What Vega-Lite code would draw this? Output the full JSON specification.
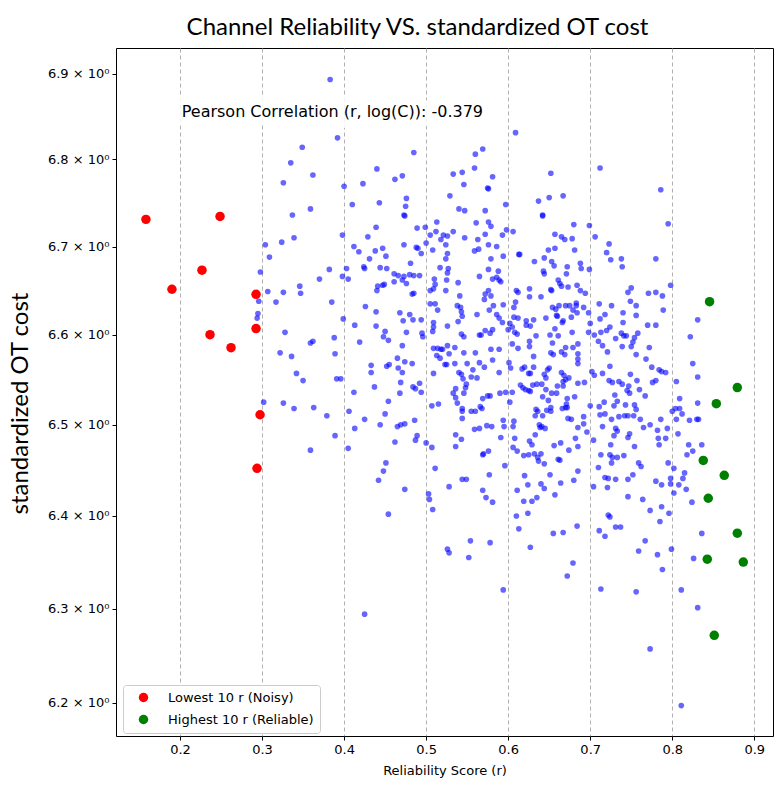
{
  "$schema": "https://vega.github.io/schema/vega-lite/v6.json",
  "width": 657,
  "height": 688,
  "autosize": "none",
  "padding": {"left": 116, "top": 48, "right": 11, "bottom": 54},
  "background": "white",
  "title": {"text": "Channel Reliability VS. standardized OT cost", "font": "Lato", "fontSize": 24, "fontWeight": "normal", "color": "black", "anchor": "middle", "dx": -27, "dy": 26, "offset": 15, "baseline": "alphabetic"},
  "datasets": {
    "points": [
{"r":0.383,"c":6.893},{"r":0.392,"c":6.825},{"r":0.349,"c":6.814},{"r":0.335,"c":6.796},{"r":0.362,"c":6.782},{"r":0.326,"c":6.773},{"r":0.400,"c":6.769},{"r":0.440,"c":6.789},{"r":0.423,"c":6.772},{"r":0.462,"c":6.777},{"r":0.471,"c":6.781},{"r":0.485,"c":6.808},{"r":0.410,"c":6.748},{"r":0.443,"c":6.750},{"r":0.476,"c":6.755},{"r":0.475,"c":6.746},{"r":0.473,"c":6.736},{"r":0.474,"c":6.735},{"r":0.337,"c":6.736},{"r":0.359,"c":6.743},{"r":0.339,"c":6.710},{"r":0.324,"c":6.705},{"r":0.304,"c":6.702},{"r":0.309,"c":6.688},{"r":0.298,"c":6.671},{"r":0.307,"c":6.649},{"r":0.326,"c":6.648},{"r":0.317,"c":6.637},{"r":0.296,"c":6.638},{"r":0.295,"c":6.624},{"r":0.294,"c":6.619},{"r":0.328,"c":6.603},{"r":0.346,"c":6.655},{"r":0.347,"c":6.647},{"r":0.370,"c":6.663},{"r":0.382,"c":6.674},{"r":0.385,"c":6.637},{"r":0.398,"c":6.713},{"r":0.403,"c":6.675},{"r":0.398,"c":6.666},{"r":0.405,"c":6.663},{"r":0.399,"c":6.618},{"r":0.413,"c":6.611},{"r":0.426,"c":6.632},{"r":0.439,"c":6.626},{"r":0.439,"c":6.610},{"r":0.450,"c":6.604},{"r":0.412,"c":6.700},{"r":0.418,"c":6.694},{"r":0.431,"c":6.686},{"r":0.424,"c":6.677},{"r":0.425,"c":6.675},{"r":0.429,"c":6.711},{"r":0.439,"c":6.722},{"r":0.438,"c":6.695},{"r":0.447,"c":6.698},{"r":0.451,"c":6.689},{"r":0.444,"c":6.676},{"r":0.452,"c":6.675},{"r":0.461,"c":6.669},{"r":0.466,"c":6.667},{"r":0.473,"c":6.666},{"r":0.480,"c":6.668},{"r":0.485,"c":6.667},{"r":0.492,"c":6.667},{"r":0.461,"c":6.660},{"r":0.471,"c":6.662},{"r":0.476,"c":6.658},{"r":0.441,"c":6.655},{"r":0.440,"c":6.650},{"r":0.447,"c":6.656},{"r":0.449,"c":6.657},{"r":0.485,"c":6.647},{"r":0.483,"c":6.646},{"r":0.473,"c":6.702},{"r":0.481,"c":6.681},{"r":0.488,"c":6.699},{"r":0.490,"c":6.698},{"r":0.494,"c":6.692},{"r":0.489,"c":6.721},{"r":0.499,"c":6.722},{"r":0.500,"c":6.704},{"r":0.494,"c":6.617},{"r":0.495,"c":6.602},{"r":0.468,"c":6.625},{"r":0.480,"c":6.623},{"r":0.484,"c":6.617},{"r":0.472,"c":6.616},{"r":0.476,"c":6.603},{"r":0.508,"c":6.696},{"r":0.505,"c":6.713},{"r":0.513,"c":6.728},{"r":0.512,"c":6.717},{"r":0.518,"c":6.708},{"r":0.521,"c":6.713},{"r":0.526,"c":6.712},{"r":0.533,"c":6.717},{"r":0.524,"c":6.702},{"r":0.526,"c":6.692},{"r":0.524,"c":6.686},{"r":0.517,"c":6.676},{"r":0.527,"c":6.675},{"r":0.526,"c":6.670},{"r":0.510,"c":6.663},{"r":0.511,"c":6.657},{"r":0.509,"c":6.652},{"r":0.505,"c":6.650},{"r":0.525,"c":6.662},{"r":0.524,"c":6.650},{"r":0.539,"c":6.659},{"r":0.541,"c":6.644},{"r":0.505,"c":6.635},{"r":0.511,"c":6.635},{"r":0.514,"c":6.628},{"r":0.509,"c":6.614},{"r":0.509,"c":6.609},{"r":0.526,"c":6.610},{"r":0.538,"c":6.633},{"r":0.542,"c":6.631},{"r":0.543,"c":6.626},{"r":0.544,"c":6.621},{"r":0.539,"c":6.615},{"r":0.562,"c":6.623},{"r":0.529,"c":6.758},{"r":0.540,"c":6.743},{"r":0.547,"c":6.741},{"r":0.546,"c":6.771},{"r":0.533,"c":6.783},{"r":0.544,"c":6.785},{"r":0.559,"c":6.790},{"r":0.560,"c":6.806},{"r":0.547,"c":6.710},{"r":0.561,"c":6.727},{"r":0.559,"c":6.695},{"r":0.564,"c":6.697},{"r":0.563,"c":6.708},{"r":0.565,"c":6.666},
{"r":0.569,"c":6.812},{"r":0.581,"c":6.780},{"r":0.575,"c":6.767},{"r":0.576,"c":6.766},{"r":0.597,"c":6.748},{"r":0.572,"c":6.741},{"r":0.576,"c":6.728},{"r":0.579,"c":6.723},{"r":0.572,"c":6.714},{"r":0.593,"c":6.713},{"r":0.598,"c":6.719},{"r":0.606,"c":6.717},{"r":0.576,"c":6.702},{"r":0.586,"c":6.700},{"r":0.594,"c":6.689},{"r":0.579,"c":6.686},{"r":0.576,"c":6.674},{"r":0.588,"c":6.672},{"r":0.581,"c":6.663},{"r":0.586,"c":6.665},{"r":0.589,"c":6.662},{"r":0.591,"c":6.660},{"r":0.576,"c":6.650},{"r":0.572,"c":6.646},{"r":0.579,"c":6.644},{"r":0.571,"c":6.640},{"r":0.582,"c":6.633},{"r":0.577,"c":6.628},{"r":0.594,"c":6.634},{"r":0.586,"c":6.623},{"r":0.589,"c":6.619},{"r":0.593,"c":6.614},{"r":0.572,"c":6.605},{"r":0.578,"c":6.602},{"r":0.581,"c":6.606},{"r":0.567,"c":6.600},{"r":0.609,"c":6.831},{"r":0.652,"c":6.784},{"r":0.712,"c":6.790},{"r":0.637,"c":6.752},{"r":0.650,"c":6.756},{"r":0.667,"c":6.758},{"r":0.642,"c":6.736},{"r":0.642,"c":6.735},{"r":0.680,"c":6.725},{"r":0.699,"c":6.724},{"r":0.657,"c":6.714},{"r":0.665,"c":6.711},{"r":0.669,"c":6.708},{"r":0.678,"c":6.709},{"r":0.613,"c":6.691},{"r":0.614,"c":6.691},{"r":0.649,"c":6.696},{"r":0.657,"c":6.698},{"r":0.681,"c":6.696},{"r":0.632,"c":6.683},{"r":0.644,"c":6.687},{"r":0.653,"c":6.683},{"r":0.656,"c":6.678},{"r":0.643,"c":6.672},{"r":0.644,"c":6.669},{"r":0.672,"c":6.677},{"r":0.671,"c":6.669},{"r":0.688,"c":6.681},{"r":0.689,"c":6.675},{"r":0.699,"c":6.674},{"r":0.706,"c":6.711},{"r":0.723,"c":6.703},{"r":0.720,"c":6.693},{"r":0.725,"c":6.685},{"r":0.738,"c":6.686},{"r":0.739,"c":6.677},{"r":0.780,"c":6.686},{"r":0.786,"c":6.765},{"r":0.795,"c":6.726},{"r":0.798,"c":6.656},{"r":0.661,"c":6.662},{"r":0.663,"c":6.658},{"r":0.665,"c":6.655},{"r":0.652,"c":6.651},{"r":0.653,"c":6.650},{"r":0.673,"c":6.654},{"r":0.684,"c":6.656},{"r":0.688,"c":6.650},{"r":0.694,"c":6.647},{"r":0.626,"c":6.652},{"r":0.626,"c":6.643},{"r":0.640,"c":6.643},{"r":0.610,"c":6.650},{"r":0.612,"c":6.648},{"r":0.607,"c":6.631},{"r":0.609,"c":6.637},{"r":0.607,"c":6.620},{"r":0.612,"c":6.619},{"r":0.602,"c":6.613},{"r":0.600,"c":6.606},{"r":0.605,"c":6.609},{"r":0.608,"c":6.603},{"r":0.611,"c":6.601},{"r":0.622,"c":6.616},{"r":0.627,"c":6.610},{"r":0.631,"c":6.617},{"r":0.622,"c":6.611},{"r":0.646,"c":6.619},{"r":0.654,"c":6.631},{"r":0.658,"c":6.629},{"r":0.662,"c":6.633},{"r":0.659,"c":6.622},{"r":0.660,"c":6.621},{"r":0.667,"c":6.616},{"r":0.666,"c":6.614},{"r":0.657,"c":6.607},{"r":0.670,"c":6.633},{"r":0.675,"c":6.633},{"r":0.683,"c":6.636},{"r":0.683,"c":6.633},{"r":0.679,"c":6.628},{"r":0.677,"c":6.620},{"r":0.684,"c":6.625},{"r":0.692,"c":6.631},{"r":0.698,"c":6.625},{"r":0.700,"c":6.613},{"r":0.698,"c":6.603},{"r":0.678,"c":6.603},{"r":0.651,"c":6.600},{"r":0.711,"c":6.635},{"r":0.726,"c":6.633},{"r":0.718,"c":6.623},{"r":0.712,"c":6.618},{"r":0.724,"c":6.609},{"r":0.720,"c":6.605},{"r":0.713,"c":6.603},{"r":0.705,"c":6.600},{"r":0.740,"c":6.625},{"r":0.740,"c":6.614},{"r":0.738,"c":6.602},{"r":0.746,"c":6.648},{"r":0.750,"c":6.653},{"r":0.749,"c":6.638},{"r":0.756,"c":6.633},{"r":0.756,"c":6.622},{"r":0.758,"c":6.602},{"r":0.771,"c":6.647},{"r":0.780,"c":6.648},{"r":0.788,"c":6.644},{"r":0.789,"c":6.628},{"r":0.770,"c":6.611},{"r":0.780,"c":6.611},{"r":0.831,"c":6.617},
{"r":0.388,"c":6.597},{"r":0.389,"c":6.579},{"r":0.359,"c":6.591},{"r":0.362,"c":6.593},{"r":0.322,"c":6.580},{"r":0.336,"c":6.576},{"r":0.342,"c":6.557},{"r":0.350,"c":6.549},{"r":0.391,"c":6.551},{"r":0.396,"c":6.551},{"r":0.419,"c":6.592},{"r":0.448,"c":6.598},{"r":0.454,"c":6.594},{"r":0.471,"c":6.588},{"r":0.496,"c":6.598},{"r":0.508,"c":6.604},{"r":0.465,"c":6.574},{"r":0.474,"c":6.570},{"r":0.483,"c":6.568},{"r":0.433,"c":6.566},{"r":0.433,"c":6.558},{"r":0.452,"c":6.565},{"r":0.455,"c":6.567},{"r":0.466,"c":6.563},{"r":0.471,"c":6.558},{"r":0.437,"c":6.542},{"r":0.412,"c":6.536},{"r":0.469,"c":6.547},{"r":0.468,"c":6.535},{"r":0.484,"c":6.542},{"r":0.487,"c":6.540},{"r":0.492,"c":6.546},{"r":0.494,"c":6.536},{"r":0.454,"c":6.526},{"r":0.450,"c":6.512},{"r":0.486,"c":6.505},{"r":0.465,"c":6.498},{"r":0.469,"c":6.500},{"r":0.474,"c":6.501},{"r":0.444,"c":6.500},{"r":0.425,"c":6.506},{"r":0.406,"c":6.515},{"r":0.413,"c":6.496},{"r":0.389,"c":6.488},{"r":0.379,"c":6.510},{"r":0.363,"c":6.519},{"r":0.339,"c":6.518},{"r":0.326,"c":6.524},{"r":0.302,"c":6.525},{"r":0.359,"c":6.472},{"r":0.405,"c":6.474},{"r":0.489,"c":6.488},{"r":0.487,"c":6.483},{"r":0.462,"c":6.481},{"r":0.500,"c":6.480},{"r":0.507,"c":6.475},{"r":0.451,"c":6.458},{"r":0.448,"c":6.449},{"r":0.442,"c":6.439},{"r":0.474,"c":6.429},{"r":0.503,"c":6.424},{"r":0.504,"c":6.418},{"r":0.508,"c":6.407},{"r":0.454,"c":6.402},{"r":0.511,"c":6.452},{"r":0.528,"c":6.432},{"r":0.544,"c":6.440},{"r":0.549,"c":6.440},{"r":0.526,"c":6.364},{"r":0.528,"c":6.360},{"r":0.554,"c":6.373},{"r":0.552,"c":6.355},{"r":0.509,"c":6.585},{"r":0.514,"c":6.585},{"r":0.518,"c":6.584},{"r":0.520,"c":6.584},{"r":0.513,"c":6.577},{"r":0.517,"c":6.574},{"r":0.526,"c":6.588},{"r":0.535,"c":6.586},{"r":0.528,"c":6.579},{"r":0.523,"c":6.567},{"r":0.525,"c":6.567},{"r":0.535,"c":6.568},{"r":0.546,"c":6.580},{"r":0.560,"c":6.580},{"r":0.543,"c":6.601},{"r":0.546,"c":6.598},{"r":0.550,"c":6.568},{"r":0.565,"c":6.600},{"r":0.565,"c":6.569},{"r":0.509,"c":6.557},{"r":0.540,"c":6.558},{"r":0.543,"c":6.556},{"r":0.545,"c":6.551},{"r":0.557,"c":6.561},{"r":0.555,"c":6.553},{"r":0.562,"c":6.552},{"r":0.549,"c":6.545},{"r":0.548,"c":6.541},{"r":0.536,"c":6.540},{"r":0.533,"c":6.535},{"r":0.536,"c":6.530},{"r":0.538,"c":6.524},{"r":0.546,"c":6.535},{"r":0.507,"c":6.521},{"r":0.515,"c":6.523},{"r":0.544,"c":6.518},{"r":0.544,"c":6.515},{"r":0.555,"c":6.515},{"r":0.560,"c":6.515},{"r":0.544,"c":6.507},{"r":0.559,"c":6.495},{"r":0.565,"c":6.496},{"r":0.536,"c":6.489},{"r":0.543,"c":6.484},{"r":0.536,"c":6.476},{"r":0.566,"c":6.520},
{"r":0.634,"c":6.599},{"r":0.661,"c":6.599},{"r":0.822,"c":6.598},{"r":0.579,"c":6.584},{"r":0.589,"c":6.584},{"r":0.581,"c":6.572},{"r":0.571,"c":6.564},{"r":0.589,"c":6.558},{"r":0.601,"c":6.569},{"r":0.603,"c":6.563},{"r":0.612,"c":6.585},{"r":0.605,"c":6.590},{"r":0.626,"c":6.593},{"r":0.626,"c":6.587},{"r":0.631,"c":6.576},{"r":0.631,"c":6.564},{"r":0.620,"c":6.564},{"r":0.617,"c":6.562},{"r":0.625,"c":6.557},{"r":0.627,"c":6.557},{"r":0.615,"c":6.544},{"r":0.618,"c":6.541},{"r":0.621,"c":6.539},{"r":0.625,"c":6.538},{"r":0.627,"c":6.537},{"r":0.630,"c":6.544},{"r":0.635,"c":6.545},{"r":0.646,"c":6.552},{"r":0.644,"c":6.556},{"r":0.648,"c":6.561},{"r":0.650,"c":6.563},{"r":0.641,"c":6.545},{"r":0.646,"c":6.539},{"r":0.654,"c":6.591},{"r":0.655,"c":6.578},{"r":0.652,"c":6.580},{"r":0.665,"c":6.581},{"r":0.669,"c":6.578},{"r":0.670,"c":6.586},{"r":0.679,"c":6.586},{"r":0.685,"c":6.579},{"r":0.685,"c":6.573},{"r":0.685,"c":6.568},{"r":0.685,"c":6.590},{"r":0.665,"c":6.558},{"r":0.668,"c":6.555},{"r":0.674,"c":6.552},{"r":0.670,"c":6.550},{"r":0.667,"c":6.548},{"r":0.685,"c":6.546},{"r":0.693,"c":6.547},{"r":0.660,"c":6.543},{"r":0.667,"c":6.543},{"r":0.659,"c":6.535},{"r":0.653,"c":6.535},{"r":0.649,"c":6.527},{"r":0.642,"c":6.531},{"r":0.672,"c":6.529},{"r":0.681,"c":6.531},{"r":0.671,"c":6.523},{"r":0.666,"c":6.518},{"r":0.670,"c":6.519},{"r":0.672,"c":6.519},{"r":0.652,"c":6.519},{"r":0.647,"c":6.516},{"r":0.652,"c":6.515},{"r":0.634,"c":6.517},{"r":0.636,"c":6.515},{"r":0.642,"c":6.510},{"r":0.633,"c":6.510},{"r":0.638,"c":6.500},{"r":0.641,"c":6.498},{"r":0.645,"c":6.496},{"r":0.639,"c":6.497},{"r":0.673,"c":6.507},{"r":0.677,"c":6.506},{"r":0.692,"c":6.509},{"r":0.692,"c":6.501},{"r":0.685,"c":6.497},{"r":0.682,"c":6.485},{"r":0.696,"c":6.492},{"r":0.664,"c":6.480},{"r":0.656,"c":6.477},{"r":0.685,"c":6.476},{"r":0.674,"c":6.472},{"r":0.661,"c":6.462},{"r":0.663,"c":6.461},{"r":0.633,"c":6.489},{"r":0.626,"c":6.482},{"r":0.629,"c":6.478},{"r":0.608,"c":6.485},{"r":0.606,"c":6.498},{"r":0.607,"c":6.504},{"r":0.594,"c":6.505},{"r":0.595,"c":6.498},{"r":0.591,"c":6.486},{"r":0.606,"c":6.475},{"r":0.611,"c":6.471},{"r":0.619,"c":6.466},{"r":0.625,"c":6.467},{"r":0.632,"c":6.468},{"r":0.636,"c":6.464},{"r":0.640,"c":6.468},{"r":0.637,"c":6.460},{"r":0.644,"c":6.457},{"r":0.596,"c":6.455},{"r":0.620,"c":6.444},{"r":0.624,"c":6.434},{"r":0.611,"c":6.428},{"r":0.651,"c":6.445},{"r":0.640,"c":6.435},{"r":0.644,"c":6.430},{"r":0.657,"c":6.423},{"r":0.664,"c":6.436},{"r":0.680,"c":6.439},{"r":0.685,"c":6.449},{"r":0.635,"c":6.420},{"r":0.629,"c":6.416},{"r":0.619,"c":6.416},{"r":0.610,"c":6.400},{"r":0.624,"c":6.403},{"r":0.613,"c":6.386},{"r":0.655,"c":6.381},{"r":0.667,"c":6.382},{"r":0.684,"c":6.389},{"r":0.627,"c":6.366},{"r":0.679,"c":6.349},{"r":0.672,"c":6.335},{"r":0.594,"c":6.320},{"r":0.577,"c":6.445},{"r":0.569,"c":6.428},{"r":0.573,"c":6.420},{"r":0.581,"c":6.415},{"r":0.569,"c":6.467},{"r":0.570,"c":6.468},{"r":0.576,"c":6.471},{"r":0.578,"c":6.371},{"r":0.574,"c":6.499},{"r":0.580,"c":6.498},{"r":0.568,"c":6.518},{"r":0.569,"c":6.529},{"r":0.575,"c":6.532},{"r":0.578,"c":6.532},{"r":0.590,"c":6.535},{"r":0.597,"c":6.536},{"r":0.602,"c":6.525},{"r":0.605,"c":6.536},
{"r":0.710,"c":6.593},{"r":0.715,"c":6.588},{"r":0.721,"c":6.581},{"r":0.731,"c":6.596},{"r":0.739,"c":6.587},{"r":0.741,"c":6.599},{"r":0.744,"c":6.599},{"r":0.750,"c":6.587},{"r":0.752,"c":6.592},{"r":0.754,"c":6.597},{"r":0.756,"c":6.578},{"r":0.772,"c":6.586},{"r":0.768,"c":6.573},{"r":0.775,"c":6.564},{"r":0.784,"c":6.561},{"r":0.787,"c":6.559},{"r":0.792,"c":6.558},{"r":0.702,"c":6.559},{"r":0.705,"c":6.555},{"r":0.715,"c":6.557},{"r":0.724,"c":6.565},{"r":0.723,"c":6.549},{"r":0.727,"c":6.547},{"r":0.735,"c":6.548},{"r":0.739,"c":6.545},{"r":0.747,"c":6.543},{"r":0.749,"c":6.556},{"r":0.757,"c":6.549},{"r":0.760,"c":6.539},{"r":0.745,"c":6.538},{"r":0.748,"c":6.535},{"r":0.767,"c":6.532},{"r":0.776,"c":6.547},{"r":0.780,"c":6.549},{"r":0.805,"c":6.548},{"r":0.700,"c":6.521},{"r":0.711,"c":6.520},{"r":0.717,"c":6.525},{"r":0.730,"c":6.533},{"r":0.733,"c":6.526},{"r":0.729,"c":6.521},{"r":0.743,"c":6.522},{"r":0.754,"c":6.522},{"r":0.756,"c":6.517},{"r":0.712,"c":6.511},{"r":0.718,"c":6.512},{"r":0.726,"c":6.506},{"r":0.735,"c":6.509},{"r":0.742,"c":6.510},{"r":0.746,"c":6.510},{"r":0.753,"c":6.510},{"r":0.761,"c":6.506},{"r":0.765,"c":6.497},{"r":0.715,"c":6.498},{"r":0.731,"c":6.496},{"r":0.729,"c":6.488},{"r":0.733,"c":6.493},{"r":0.748,"c":6.490},{"r":0.746,"c":6.486},{"r":0.773,"c":6.500},{"r":0.782,"c":6.494},{"r":0.786,"c":6.506},{"r":0.794,"c":6.496},{"r":0.783,"c":6.485},{"r":0.792,"c":6.485},{"r":0.784,"c":6.478},{"r":0.704,"c":6.483},{"r":0.725,"c":6.478},{"r":0.754,"c":6.476},{"r":0.713,"c":6.467},{"r":0.724,"c":6.467},{"r":0.727,"c":6.464},{"r":0.733,"c":6.464},{"r":0.741,"c":6.466},{"r":0.710,"c":6.453},{"r":0.726,"c":6.458},{"r":0.759,"c":6.458},{"r":0.762,"c":6.454},{"r":0.718,"c":6.442},{"r":0.722,"c":6.441},{"r":0.731,"c":6.440},{"r":0.704,"c":6.432},{"r":0.721,"c":6.431},{"r":0.746,"c":6.440},{"r":0.752,"c":6.445},{"r":0.746,"c":6.421},{"r":0.764,"c":6.418},{"r":0.780,"c":6.438},{"r":0.787,"c":6.434},{"r":0.773,"c":6.406},{"r":0.787,"c":6.410},{"r":0.796,"c":6.403},{"r":0.785,"c":6.394},{"r":0.722,"c":6.401},{"r":0.724,"c":6.399},{"r":0.731,"c":6.388},{"r":0.737,"c":6.388},{"r":0.711,"c":6.384},{"r":0.718,"c":6.378},{"r":0.767,"c":6.373},{"r":0.759,"c":6.362},{"r":0.782,"c":6.358},{"r":0.788,"c":6.342},{"r":0.799,"c":6.364},{"r":0.713,"c":6.321},{"r":0.756,"c":6.318},{"r":0.811,"c":6.320},{"r":0.831,"c":6.301},{"r":0.795,"c":6.458},{"r":0.798,"c":6.441},{"r":0.802,"c":6.452},{"r":0.798,"c":6.435},{"r":0.802,"c":6.425},{"r":0.808,"c":6.434},{"r":0.813,"c":6.441},{"r":0.815,"c":6.447},{"r":0.817,"c":6.429},{"r":0.824,"c":6.415},{"r":0.818,"c":6.467},{"r":0.820,"c":6.478},{"r":0.836,"c":6.478},{"r":0.825,"c":6.471},{"r":0.807,"c":6.490},{"r":0.800,"c":6.515},{"r":0.804,"c":6.518},{"r":0.809,"c":6.518},{"r":0.805,"c":6.506},{"r":0.812,"c":6.512},{"r":0.821,"c":6.505},{"r":0.830,"c":6.506},{"r":0.832,"c":6.506},{"r":0.809,"c":6.529},{"r":0.831,"c":6.524},{"r":0.831,"c":6.553},{"r":0.825,"c":6.568},{"r":0.836,"c":6.381},{"r":0.826,"c":6.354},
{"r":0.425,"c":6.294},{"r":0.773,"c":6.257},{"r":0.811,"c":6.197}
    ],
    "extremes": [
      {"r":0.1585,"c":6.731,"g":"Lowest 10 r (Noisy)"},
      {"r":0.1902,"c":6.6515,"g":"Lowest 10 r (Noisy)"},
      {"r":0.2488,"c":6.7344,"g":"Lowest 10 r (Noisy)"},
      {"r":0.2268,"c":6.6731,"g":"Lowest 10 r (Noisy)"},
      {"r":0.2366,"c":6.6003,"g":"Lowest 10 r (Noisy)"},
      {"r":0.2622,"c":6.5858,"g":"Lowest 10 r (Noisy)"},
      {"r":0.2927,"c":6.6458,"g":"Lowest 10 r (Noisy)"},
      {"r":0.2927,"c":6.6072,"g":"Lowest 10 r (Noisy)"},
      {"r":0.2976,"c":6.5111,"g":"Lowest 10 r (Noisy)"},
      {"r":0.2939,"c":6.452,"g":"Lowest 10 r (Noisy)"},
      {"r":0.8455,"c":6.6375,"g":"Highest 10 r (Reliable)"},
      {"r":0.8793,"c":6.5412,"g":"Highest 10 r (Reliable)"},
      {"r":0.8537,"c":6.5234,"g":"Highest 10 r (Reliable)"},
      {"r":0.8378,"c":6.4607,"g":"Highest 10 r (Reliable)"},
      {"r":0.8634,"c":6.4444,"g":"Highest 10 r (Reliable)"},
      {"r":0.8439,"c":6.4193,"g":"Highest 10 r (Reliable)"},
      {"r":0.8793,"c":6.3813,"g":"Highest 10 r (Reliable)"},
      {"r":0.8427,"c":6.3532,"g":"Highest 10 r (Reliable)"},
      {"r":0.8866,"c":6.35,"g":"Highest 10 r (Reliable)"},
      {"r":0.8512,"c":6.2714,"g":"Highest 10 r (Reliable)"}
    ],
    "note": [{"r":0.2021,"c":6.8494,"t":"Pearson Correlation (r, log(C)): -0.379"}]
  },
  "encoding": {
    "x": {"field": "r", "type": "quantitative",
      "scale": {"domain": [0.122, 0.9228], "nice": false, "zero": false},
      "axis": {"values": [0.2,0.3,0.4,0.5,0.6,0.7,0.8,0.9], "format": ".1f", "title": "Reliability Score (r)", "grid": true, "gridDash": [4,3], "gridColor": "#b0b0b0", "gridWidth": 1, "titleFontSize": 13, "titlePadding": 8}},
    "y": {"field": "c", "type": "quantitative",
      "scale": {"type": "log", "domain": [6.165, 6.93], "nice": false, "zero": false},
      "axis": {"values": [6.2,6.3,6.4,6.5,6.6,6.7,6.8,6.9], "labelExpr": "format(datum.value, '.1f') + ' × 10⁰'", "grid": false, "title": "standardized OT cost", "titleFont": "Lato", "titleFontSize": 24, "titleX": -96, "titleY": 355, "titleAngle": -90, "titleAlign": "center", "titleBaseline": "middle"}}
  },
  "layer": [
    {"data": {"name": "points"}, "mark": {"type": "point", "filled": true, "shape": "circle", "size": 32, "color": "#0000ff", "opacity": 0.6, "strokeWidth": 0}},
    {"data": {"name": "extremes"}, "mark": {"type": "point", "filled": true, "shape": "circle", "size": 90, "opacity": 1, "strokeWidth": 0},
      "encoding": {"color": {"field": "g", "type": "nominal",
        "scale": {"domain": ["Lowest 10 r (Noisy)", "Highest 10 r (Reliable)"], "range": ["#ff0000", "#008000"]},
        "legend": {"orient": "none", "legendX": 7, "legendY": 637, "title": null, "direction": "vertical", "strokeColor": "#cccccc", "fillColor": "white", "padding": 6, "cornerRadius": 3, "labelFont": "DejaVu Sans", "labelFontSize": 13, "labelColor": "black", "symbolSize": 90, "symbolType": "circle", "symbolOpacity": 1, "symbolStrokeWidth": 0, "rowPadding": 8, "labelOffset": 18, "symbolOffset": 8}}}},
    {"data": {"name": "note"}, "mark": {"type": "text", "align": "left", "baseline": "alphabetic", "font": "DejaVu Sans", "fontSize": 16, "color": "white", "stroke": "white", "strokeWidth": 18, "strokeJoin": "round", "opacity": 0.85}, "encoding": {"text": {"field": "t"}}},
    {"data": {"name": "note"}, "mark": {"type": "text", "align": "left", "baseline": "alphabetic", "font": "DejaVu Sans", "fontSize": 16, "color": "black"}, "encoding": {"text": {"field": "t"}}}
  ],
  "config": {
    "font": "DejaVu Sans",
    "view": {"stroke": "black", "strokeWidth": 1},
    "axis": {"labelFont": "DejaVu Sans", "labelFontSize": 13, "labelColor": "black", "tickColor": "black", "tickSize": 4, "labelPadding": 3, "domain": false, "titleFont": "DejaVu Sans", "titleFontWeight": "normal", "titleColor": "black"}
  }
}
